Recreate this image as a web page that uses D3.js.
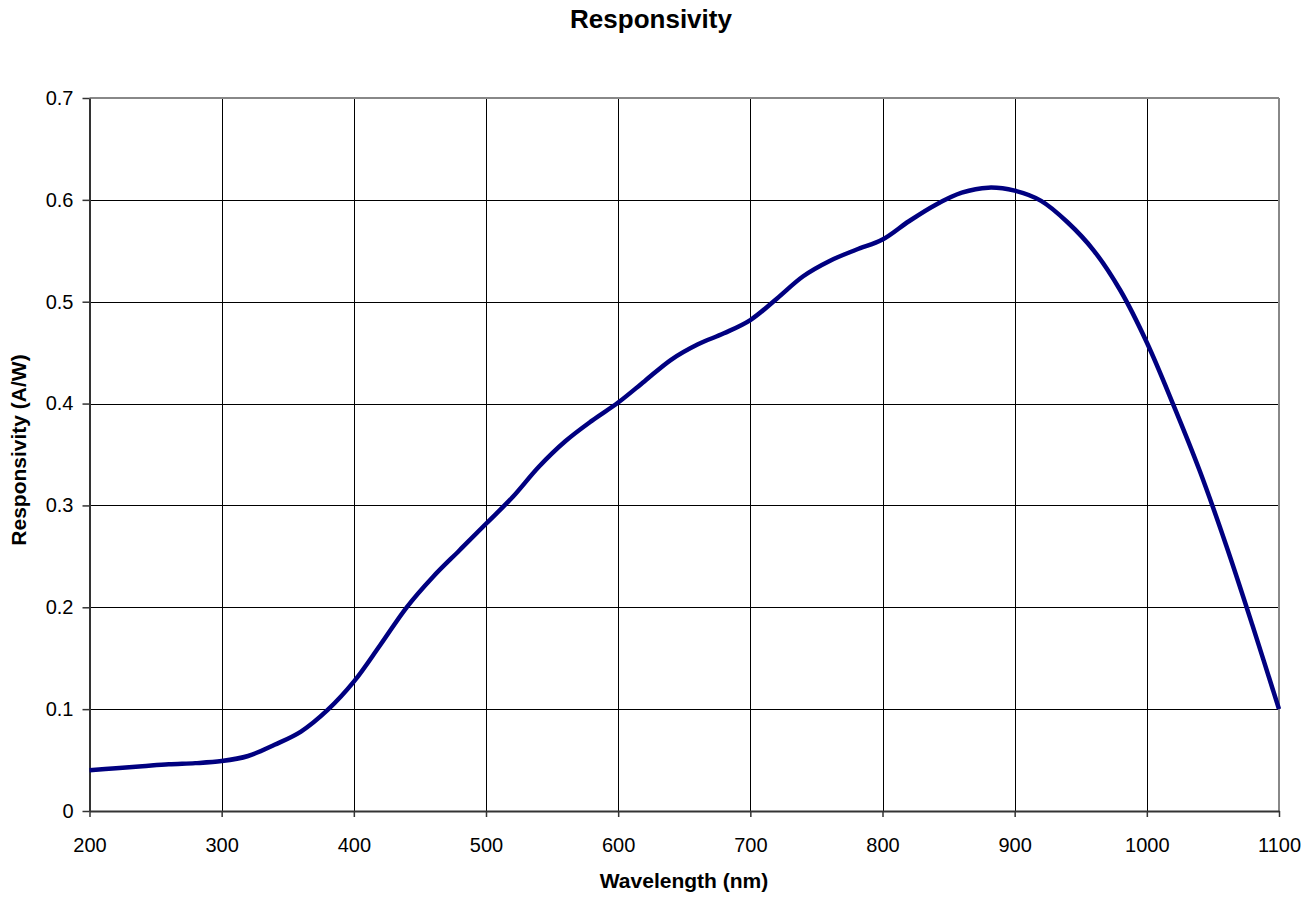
<!DOCTYPE html>
<html>
<head>
  <title>Responsivity</title>
  <script src="https://d3js.org/d3.v7.min.js"></script>
  <style>
    body { margin: 0; background: #fff; }
    text { font-family: "Liberation Sans", Arial, sans-serif; }
  </style>
</head>
<body>
  <svg id="chart"></svg>
  <script>
    // wavelength (nm) and responsivity (A/W)
    var wavelength = [200, 220, 240, 260, 280, 300, 320, 340, 360, 380, 400, 420, 440, 460, 480,
      500, 520, 540, 560, 580, 600, 620, 640, 660, 680, 700, 720, 740, 760, 780, 800, 820, 840,
      860, 880, 900, 920, 940, 960, 980, 1000, 1020, 1040, 1060, 1080, 1100];
    var responsivity = [0.040, 0.042, 0.044, 0.046, 0.047, 0.049, 0.054, 0.065, 0.078, 0.099, 0.127,
      0.163, 0.200, 0.230, 0.256, 0.282, 0.308, 0.338, 0.363, 0.383, 0.401, 0.422, 0.443, 0.458,
      0.469, 0.482, 0.503, 0.525, 0.540, 0.551, 0.561, 0.579, 0.595, 0.607, 0.612, 0.609, 0.599,
      0.578, 0.550, 0.511, 0.460, 0.399, 0.334, 0.261, 0.182, 0.100];
    var xTicks = [200, 300, 400, 500, 600, 700, 800, 900, 1000, 1100];
    var yTicks = [0, 0.1, 0.2, 0.3, 0.4, 0.5, 0.6, 0.7];

    var W = 1315, H = 901;
    // plot box (don't use "top" - clashes with window.top)
    var pLeft = 89.5, pTop = 98, pRight = 1279, pBottom = 811;

    var svg = d3.select("#chart").attr("width", W).attr("height", H);

    var x = d3.scaleLinear().domain([200, 1100]).range([pLeft, pRight]);
    var y = d3.scaleLinear().domain([0, 0.7]).range([pBottom, pTop]);

    // gridlines
    svg.append("g").selectAll("line").data(xTicks.slice(1, -1)).enter().append("line")
      .attr("x1", function(d) { return Math.round(x(d)) + 0.5; })
      .attr("x2", function(d) { return Math.round(x(d)) + 0.5; })
      .attr("y1", pTop).attr("y2", pBottom)
      .attr("stroke", "#000").attr("stroke-width", 1);
    svg.append("g").selectAll("line").data(yTicks.slice(1, -1)).enter().append("line")
      .attr("y1", function(d) { return Math.round(y(d)) + 0.5; })
      .attr("y2", function(d) { return Math.round(y(d)) + 0.5; })
      .attr("x1", pLeft).attr("x2", pRight)
      .attr("stroke", "#000").attr("stroke-width", 1);

    // top and right border (gray)
    svg.append("line").attr("x1", pLeft).attr("x2", pRight).attr("y1", pTop).attr("y2", pTop)
      .attr("stroke", "#888").attr("stroke-width", 2);
    svg.append("line").attr("x1", pRight).attr("x2", pRight).attr("y1", pTop).attr("y2", pBottom)
      .attr("stroke", "#888").attr("stroke-width", 2);

    // axes
    var xAxis = d3.axisBottom(x).tickValues(xTicks).tickSizeInner(6).tickSizeOuter(0).tickPadding(21)
      .tickFormat(d3.format("d"));
    var yAxis = d3.axisLeft(y).tickValues(yTicks).tickSizeInner(7).tickSizeOuter(0).tickPadding(9)
      .tickFormat(function(d) { return d === 0 ? "0" : d3.format(".1f")(d); });

    var gx = svg.append("g").attr("transform", "translate(0," + pBottom + ")").call(xAxis);
    var gy = svg.append("g").attr("transform", "translate(" + pLeft + ",0)").call(yAxis);
    [gx, gy].forEach(function(g) {
      g.select(".domain").attr("stroke", "#333").attr("stroke-width", 2);
      g.selectAll(".tick line").attr("stroke", "#333").attr("stroke-width", 1.5);
      g.selectAll(".tick text").attr("font-size", 20).attr("fill", "#000")
        .attr("font-family", "Liberation Sans, Arial, sans-serif");
    });

    // curve
    var pts = wavelength.map(function(w, i) { return [w, responsivity[i]]; });
    var line = d3.line()
      .x(function(d) { return x(d[0]); })
      .y(function(d) { return y(d[1]); })
      .curve(d3.curveCatmullRom.alpha(0.5));
    svg.append("path").datum(pts)
      .attr("d", line)
      .attr("fill", "none")
      .attr("stroke", "#000080")
      .attr("stroke-width", 4.5)
      .attr("stroke-linejoin", "round");

    // titles
    svg.append("text").attr("x", 651).attr("y", 28)
      .attr("text-anchor", "middle").attr("font-size", 26).attr("font-weight", "bold")
      .text("Responsivity");
    svg.append("text").attr("x", 684).attr("y", 888)
      .attr("text-anchor", "middle").attr("font-size", 21).attr("font-weight", "bold")
      .text("Wavelength (nm)");
    svg.append("text")
      .attr("transform", "translate(26,450) rotate(-90)")
      .attr("text-anchor", "middle").attr("font-size", 21).attr("font-weight", "bold")
      .text("Responsivity (A/W)");
  </script>
</body>
</html>
